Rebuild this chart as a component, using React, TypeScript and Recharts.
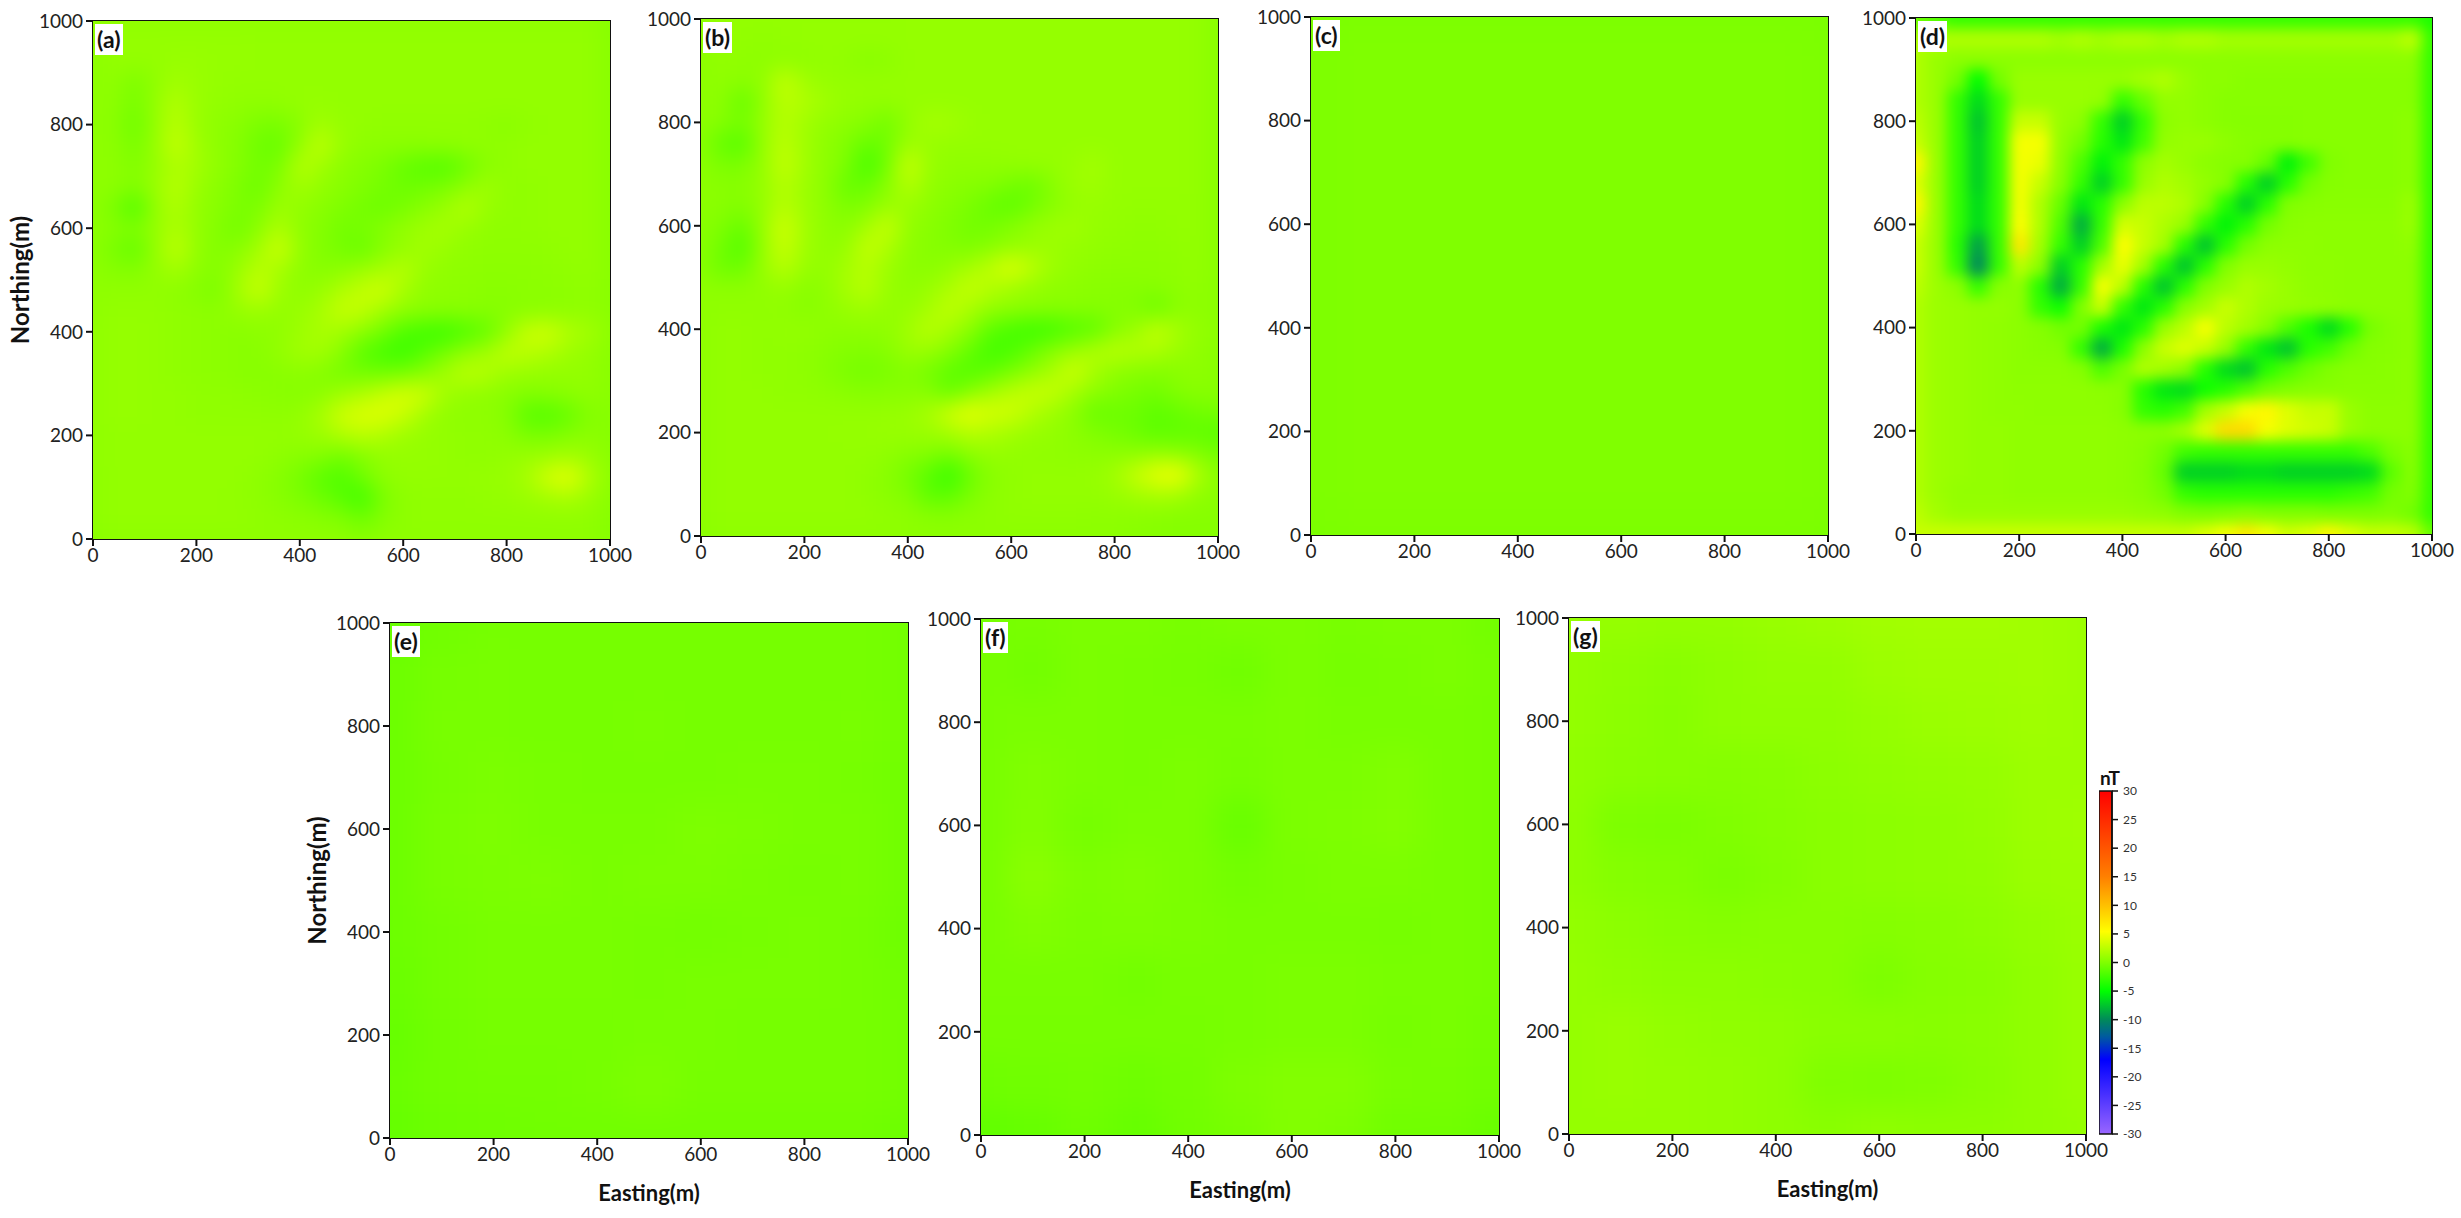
import { Scatter, ScatterChart, XAxis, YAxis, ReferenceArea } from 'recharts';

// anomaly grids in nT, rows run from Northing 1000 (top) down to 0
const panelA = [
  [0.5, 0.7, 0.7, 0.7, 0.7, 0.7, 0.7, 0.7, 0.7, 0.7, 0.7, 0.7, 0.7, 0.7, 0.7, 0.7, 0.7, 0.7, 0.7, 0.7, 0.7, 0.7, 0.7, 0.7, 0.7, 0.3],
  [0.5, 0.9, 0.9, 0.9, 0.9, 0.9, 0.9, 0.9, 0.8, 0.8, 0.8, 0.8, 0.8, 0.8, 0.8, 0.8, 0.8, 0.8, 0.8, 0.8, 0.8, 0.8, 0.8, 0.8, 0.8, 0.4],
  [0.5, 0.8, 0.8, 0.8, 1, 1, 0.9, 0.9, 0.8, 0.8, 0.8, 0.8, 0.8, 0.8, 0.8, 0.8, 0.8, 0.8, 0.8, 0.8, 0.8, 0.8, 0.8, 0.8, 0.8, 0.4],
  [0.5, 0.7, -0.2, 0.7, 1.5, 1, 0.9, 0.8, 0.8, 0.8, 0.8, 0.8, 0.8, 0.8, 0.8, 0.8, 0.8, 0.8, 0.8, 0.8, 0.8, 0.8, 0.8, 0.8, 0.8, 0.4],
  [0.5, 0.6, -0.4, 0.8, 2.2, 1, 0.8, 0.7, 0.6, 0.7, 0.9, 0.9, 0.8, 0.8, 0.8, 0.8, 0.8, 0.8, 0.8, 0.8, 0.8, 0.8, 0.8, 0.8, 0.8, 0.4],
  [0.5, 0.5, -0.8, 0.8, 2.5, 1, 0.6, 0.4, -0.2, -0.3, 0.4, 1.5, 0.9, 0.8, 0.7, 0.7, 0.7, 0.7, 0.7, 0.6, 0.4, 0.7, 0.8, 0.8, 0.8, 0.4],
  [0.5, 0.6, -0.3, 0.9, 3, 1.3, 0.6, 0.2, -0.7, -1, 0.8, 2.8, 1, 0.6, 0.5, 0.5, 0.5, 0.6, 0.7, 0.7, 0.7, 0.8, 0.8, 0.8, 0.8, 0.4],
  [0.5, 0.6, 0, 0.9, 2, 1.5, 0.7, 0.2, -0.5, -0.3, 2.4, 1.4, 0.5, 0.2, -0.2, -1, -1.6, -1.8, -0.8, 0.4, 0.7, 0.8, 0.8, 0.8, 0.8, 0.4],
  [0.5, 0.6, 0.1, 1, 2.5, 1, 0.5, -0.1, -0.8, 0.6, 1.4, 0.8, 0.4, 0, -0.4, -0.8, -0.6, -0.2, 0.6, 1.3, 0.7, 0.7, 0.8, 0.8, 0.8, 0.4],
  [0.5, -0.1, -2.2, 0.9, 2, 0.8, 0.4, -0.2, -0.2, 1.2, 0.8, 0.4, 0, -0.5, -0.8, -0.3, 0.4, 1, 2.2, 1, 0.7, 0.7, 0.8, 0.8, 0.8, 0.4],
  [0.5, 0.3, 0, 0.8, 2, 0.8, 0.2, -0.6, 0.5, 2, 0.6, 0.2, -0.5, -0.3, 0.2, 0.8, 1.3, 1.6, 1, 0.7, 0.6, 0.7, 0.8, 0.8, 0.8, 0.4],
  [0.5, -0.3, -1.2, 0.8, 2.8, 0.8, 0.1, 0.4, 1.4, 3.5, 0.8, 0.1, -0.4, -1, 0.3, 0.8, 1.5, 1, 0.7, 0.6, 0.6, 0.6, 0.7, 0.8, 0.8, 0.4],
  [0.5, 0.3, 0.1, 0.8, 1.5, 0.6, 0.2, 1, 2.5, 1.6, 0.6, 0.3, 0.5, 1.2, 1.6, 2.4, 1, 0.7, 0.6, 0.5, 0.5, 0.5, 0.6, 0.7, 0.8, 0.4],
  [0.6, 0.7, 0.7, 0.7, 0.6, 0.2, -0.2, 1.5, 3.2, 1.2, 0.6, 1, 2, 2.8, 3.5, 1.6, 0.7, 0.6, 0.5, 0.4, 0.4, 0.5, 0.5, 0.6, 0.7, 0.4],
  [0.6, 0.8, 0.8, 0.8, 0.7, 0.6, 0.5, 0.9, 1.2, 0.8, 1, 1.6, 3, 2.8, 1.4, 0.7, 0.5, 0.4, 0.4, 0.3, 0.3, 0.4, 0.5, 0.6, 0.7, 0.4],
  [0.7, 0.9, 0.9, 0.8, 0.7, 0.6, 0.5, 0.4, 0.5, 0.7, 1.2, 1.8, 1.5, 0.5, -0.5, -2, -2.6, -2.8, -2, -1.2, 0.8, 3.2, 3.5, 2, 1.5, 0.5],
  [0.7, 0.9, 0.9, 0.8, 0.7, 0.6, 0.5, 0.4, 0.4, 0.8, 1.4, 1.5, 0.4, -1.5, -2.4, -2.8, -1.6, -0.4, 0.8, 1.5, 2.8, 2.4, 2, 1.2, 0.9, 0.4],
  [0.7, 0.9, 0.9, 0.8, 0.7, 0.6, 0.5, 0.4, 0.3, 0.4, 0.5, 0.2, -0.4, -0.5, -0.6, -0.3, 0.4, 1.5, 2.6, 2.2, 1.2, 1, 0.8, 0.8, 0.8, 0.4],
  [0.7, 0.9, 0.9, 0.8, 0.8, 0.7, 0.7, 0.6, 0.5, 0.4, 0.3, 0.5, 1.3, 2, 3, 3.8, 3.4, 1.4, 0.8, 0.6, 0.4, 0.1, 0.3, 0.5, 0.7, 0.4],
  [0.7, 0.9, 0.9, 0.8, 0.8, 0.7, 0.7, 0.7, 0.7, 0.6, 0.8, 1.6, 3.4, 4, 4, 3.2, 1.5, 0.7, 0.6, 0.6, 0.3, -1.6, -1.8, -1, 0.2, 0.3],
  [0.7, 0.8, 0.8, 0.8, 0.8, 0.8, 0.8, 0.8, 0.8, 0.8, 0.9, 1.2, 2, 2.5, 2, 1.2, 0.9, 0.8, 0.7, 0.7, 0.5, -0.2, -0.2, 0.2, 0.5, 0.3],
  [0.7, 0.8, 0.8, 0.8, 0.8, 0.8, 0.8, 0.8, 0.8, 0.6, 0.4, 0.2, -0.6, 0.2, 0.8, 0.9, 0.9, 0.8, 0.7, 0.7, 0.8, 1, 1.2, 1.5, 1, 0.4],
  [0.6, 0.8, 0.8, 0.8, 0.8, 0.8, 0.8, 0.8, 0.6, 0.3, -0.4, -1.4, -2, -0.6, 0.6, 0.8, 0.8, 0.8, 0.8, 0.9, 1, 1.6, 3.6, 4.5, 2, 0.5],
  [0.6, 0.8, 0.8, 0.8, 0.8, 0.8, 0.8, 0.7, 0.6, 0.3, -0.1, -0.8, -1.6, -2.6, -0.2, 0.6, 0.7, 0.7, 0.7, 0.8, 0.9, 1.1, 1.5, 1.8, 1.1, 0.4],
  [0.6, 0.8, 0.8, 0.8, 0.8, 0.8, 0.8, 0.8, 0.7, 0.6, 0.5, 0.3, 0.1, -0.8, 0.2, 0.6, 0.7, 0.7, 0.7, 0.7, 0.7, 0.7, 0.7, 0.7, 0.7, 0.3],
  [0.4, 0.6, 0.6, 0.6, 0.6, 0.6, 0.6, 0.6, 0.6, 0.6, 0.6, 0.6, 0.6, 0.4, 0.6, 0.6, 0.6, 0.6, 0.6, 0.6, 0.6, 0.6, 0.6, 0.6, 0.6, 0.2],
];

const panelB = [
  [0.5, 0.8, 0.8, 0.8, 0.8, 0.8, 0.8, 0.8, 0.8, 0.8, 0.9, 0.9, 0.9, 0.9, 0.9, 0.9, 0.9, 0.9, 0.9, 0.9, 0.9, 0.9, 0.9, 0.9, 0.8, 0.4],
  [0.5, 0.8, 0.8, 0.7, 0.8, 0.9, 0.9, 0.9, 0.9, 0.9, 0.9, 0.9, 0.9, 0.9, 0.9, 0.9, 0.9, 0.9, 0.9, 0.9, 0.9, 0.9, 0.9, 0.9, 0.8, 0.4],
  [0.5, 0.8, 0.6, 0.6, 0.6, 0.6, 0.8, 0.7, 0.3, 0.5, 0.9, 0.9, 0.9, 0.9, 0.9, 0.9, 0.9, 0.9, 0.9, 0.9, 0.9, 0.9, 0.9, 0.9, 0.8, 0.4],
  [0.5, 0.7, 0.5, 0.7, 3, 1.4, 0.9, 0.9, 0.9, 0.9, 0.9, 0.9, 0.9, 0.9, 0.9, 0.9, 0.9, 0.9, 0.9, 0.9, 0.9, 0.9, 0.9, 0.9, 0.8, 0.4],
  [0.5, 0.6, -1.2, 0.8, 2.5, 2, 1.4, 0.9, 0.8, 0.8, 0.9, 0.9, 0.9, 0.9, 0.9, 0.9, 0.9, 0.9, 0.9, 0.9, 0.9, 0.9, 0.9, 0.9, 0.8, 0.4],
  [0.5, 0.3, -0.4, 0.9, 2.4, 1.4, 0.8, 0.6, 0.3, -0.6, 0.8, 1.6, 1.5, 1, 0.9, 0.9, 0.9, 0.9, 0.9, 0.9, 0.9, 0.9, 0.9, 0.9, 0.8, 0.4],
  [0.4, -1.2, -1.8, 1, 2.6, 1.3, 0.6, 0.1, -1, -0.6, 1.2, 1, 0.9, 0.9, 0.9, 0.9, 0.9, 0.9, 0.9, 0.9, 0.9, 0.9, 0.9, 0.9, 0.8, 0.4],
  [0.5, -0.2, -0.2, 0.9, 3, 1.4, 0.6, 0, -2.5, -0.6, 3.3, 1, 0.7, 0.7, 0.7, 0.8, 0.9, 0.9, 1, 1.5, 0.9, 0.9, 0.9, 0.9, 0.8, 0.4],
  [0.5, 0.4, 0.3, 0.9, 2.4, 1.2, 0.6, -1, -1, 0.3, 2.4, 0.8, 0.5, 0.3, 0.2, -0.4, -0.8, 0.4, 1.2, 1.3, 0.9, 0.9, 0.9, 0.9, 0.8, 0.4],
  [0.5, 0.4, 0.1, 0.9, 2.4, 1.2, 0.6, -0.2, 0, 1, 1.2, 0.6, 0.2, -0.2, -1, -1.5, -0.6, 0.3, 0.9, 1, 0.9, 0.8, 0.8, 0.8, 0.8, 0.4],
  [0.4, 0, -1, 1, 3.5, 1.4, 0.7, 0.4, 1.4, 3.2, 0.8, 0.4, 0, -0.5, -0.5, 0.2, 0.8, 1.2, 1.4, 0.9, 0.8, 0.7, 0.7, 0.8, 0.8, 0.4],
  [0.4, -0.6, -2, 1, 3.2, 1.3, 0.7, 0.8, 3, 2, 0.6, 0.3, 0.1, -0.2, 0.3, 0.7, 1, 1.2, 0.9, 0.8, 0.7, 0.6, 0.6, 0.7, 0.8, 0.4],
  [0.4, -0.8, -0.8, 1, 2.5, 1, 0.8, 1.5, 2.4, 1.2, 0.5, 0.4, 0.8, 1.6, 2.6, 4.2, 2.6, 1.2, 0.8, 0.6, 0.5, 0.5, 0.5, 0.6, 0.8, 0.4],
  [0.6, 0.6, 0.6, 0.7, 1, 0.4, 0.6, 1.6, 2.5, 1, 0.6, 1, 1.8, 3, 2.2, 1.4, 0.9, 0.6, 0.5, 0.4, 0.3, 0.3, 0.4, 0.6, 0.7, 0.4],
  [0.6, 0.7, 0.7, 0.7, 0.7, 0.3, 0.6, 1, 1.3, 0.8, 0.9, 1.5, 2.8, 1.8, 0.9, 0.7, 0.5, 0.4, 0.4, 0.3, 0.2, 0.1, -1, 0.4, 0.6, 0.4],
  [0.6, 0.8, 0.8, 0.7, 0.8, 0.8, 0.6, 0.5, 0.6, 0.7, 1.3, 2.5, 1.6, 0.6, -1.4, -2.2, -2.8, -2.6, -1.8, -1.5, 0.2, 1, 3, 1.6, 0.8, 0.5],
  [0.6, 0.8, 0.8, 0.7, 0.7, 0.6, 0.4, 0.2, 0.1, 0.3, 1.2, 1.2, 0.3, -1, -2.5, -2.2, -1, 0.3, 1, 2, 2.5, 2.2, 2, 1.2, 0.7, 0.4],
  [0.6, 0.8, 0.8, 0.7, 0.7, 0.6, 0.3, -0.2, -0.5, -0.2, 0.2, -0.4, -1.3, -1.8, -1.4, -0.4, 0.6, 1.6, 3.5, 1.6, 0.7, 0.4, 0.2, 0.4, 0.6, 0.3],
  [0.6, 0.8, 0.8, 0.8, 0.7, 0.7, 0.6, 0.4, 0.2, 0.3, 0.3, 0.2, -1.3, 0.2, 1.4, 2.4, 3, 3, 1.6, 0.7, 0.1, -0.3, -0.6, 0.2, 0.4, 0.3],
  [0.6, 0.8, 0.8, 0.8, 0.8, 0.8, 0.8, 0.8, 0.8, 0.9, 1, 1.6, 3.4, 4.5, 3.6, 3.5, 2.2, 1.2, 0.6, -1, -0.8, -0.8, -1.4, -1, -0.6, -0.4],
  [0.6, 0.8, 0.8, 0.8, 0.8, 0.8, 0.8, 0.9, 0.9, 1, 1, 1.2, 1.6, 2.4, 2, 1.4, 1, 0.8, 0.5, 0.1, -0.4, -0.8, -1.5, -1.2, -1.3, -1.5],
  [0.6, 0.8, 0.8, 0.8, 0.8, 0.8, 0.8, 0.8, 0.8, 0.7, 0.4, 0.2, -0.3, 0.6, 0.9, 0.8, 0.7, 0.7, 0.6, 0.5, 0.5, 0.5, 0.8, 0.5, 0.1, -0.5],
  [0.6, 0.8, 0.8, 0.8, 0.8, 0.8, 0.8, 0.8, 0.7, 0.4, -0.4, -1.5, -3, -0.8, 0.4, 0.7, 0.8, 0.8, 0.8, 0.9, 1.4, 3, 4.5, 5.2, 2, 0.4],
  [0.6, 0.8, 0.8, 0.8, 0.8, 0.8, 0.8, 0.8, 0.7, 0.4, 0.1, -1.5, -1.5, -0.2, 0.5, 0.7, 0.8, 0.8, 0.8, 0.8, 1, 1.4, 1.8, 1.6, 0.7, 0.4],
  [0.6, 0.8, 0.8, 0.8, 0.8, 0.8, 0.8, 0.8, 0.8, 0.7, 0.6, 0.4, 0.3, 0.5, 0.6, 0.7, 0.7, 0.7, 0.7, 0.6, 0.6, 0.5, 0.4, 0.3, 0.3, 0.3],
  [0.4, 0.6, 0.6, 0.6, 0.6, 0.6, 0.6, 0.6, 0.6, 0.6, 0.5, 0.5, 0.5, 0.5, 0.5, 0.5, 0.5, 0.5, 0.5, 0.5, 0.5, 0.4, 0.3, 0.2, 0.2, 0.2],
];

const panelC = [
  [-0.2, -0.1, -0.1, -0.1, -0.1, -0.1, -0.1, -0.1, -0.1, -0.1, -0.2],
  [-0.1, 0, 0, 0, 0, 0, 0, 0, 0, 0, -0.1],
  [-0.1, 0, 0, 0, 0, 0, 0, 0, 0, 0, -0.1],
  [-0.1, 0, 0, 0, 0, 0, 0, 0, 0, 0, -0.1],
  [-0.1, 0, 0, 0, 0, 0, 0, 0, 0, 0, -0.1],
  [-0.1, 0, 0, 0, 0, 0, 0, 0, 0, 0, -0.1],
  [-0.1, 0, 0, 0, 0, 0, 0, 0, 0, 0, -0.1],
  [-0.1, 0, 0, 0, 0, 0, 0, 0, 0, 0, -0.1],
  [-0.1, 0, 0, 0, 0, 0, 0, 0, 0, 0, -0.1],
  [-0.1, 0, 0, 0, 0, 0, 0, 0, 0, 0, -0.1],
  [-0.2, -0.1, -0.1, -0.1, -0.1, -0.1, -0.1, -0.1, -0.1, -0.1, -0.2],
];

const panelD = [
  [-1, -2, -3, -3, -3, -3, -3, -3, -3, -3, -3, -3, -3, -3, -3, -3, -3, -3, -3, -3, -3, -3, -3, -3, -3, -4],
  [2, 2, 2, 2, 2, 2, 2, 1.5, 2, 1.5, 2, 2, 1.5, 2, 2, 1.5, 1.5, 1.5, 1.5, 1.5, 1.5, 1.5, 1.5, 1.5, 2.5, -3],
  [2, 1, 0.5, 0.5, 0.5, 0.5, 0.5, 0.5, 0.5, 0.5, 0.5, 0.5, 0.5, 0.5, 0.5, 0.5, 0.5, 0.5, 0.5, 0.5, 0.5, 0.5, 0.5, 0.5, 0.5, -3],
  [2, 1, -0.5, -5, -0.5, 1, 1, 1, 1, 1, 1, 1.5, 2, 1, 0.5, 0.5, 0.3, 0.3, 0.3, 0.3, 0.3, 0.3, 0.3, 0.3, 0.3, -3],
  [2, 1, -3, -6.5, -3, 1, 1, 1, 1, 0.8, -3, -1, 0.8, 0.8, 0.5, 0.3, 0.3, 0.3, 0.3, 0.3, 0.3, 0.3, 0.3, 0.3, 0.3, -3],
  [2.5, 1, -3, -7.5, -3, 3, 3, 1, 0.5, -3, -7, -3, 0.5, 0.8, 0.5, 0.3, 0.2, 0.2, 0.2, 0.3, 0.3, 0.3, 0.3, 0.3, 0.5, -3],
  [3, 1, -3, -7, -3, 5, 5, 0.8, -0.5, -3.5, -6, -2.5, 0.8, 1, 1, 0.6, 0.3, 0.2, 0.2, 0.3, 0.3, 0.3, 0.3, 0.3, 0.5, -3],
  [6, 1, -3, -7, -3, 5, 4.5, 0.6, -2, -5.5, -3, 0.5, 1.5, 1, 0.5, 0.3, 0.2, -1, -5.5, -2.5, 0, 0.3, 0.3, 0.3, 0.5, -3],
  [4, 1, -3, -7, -3, 5, 3, 0.3, -3, -7, -3, 1, 2, 1.5, 0.8, 0.2, -3.5, -7, -3.5, -0.5, 0.2, 0.3, 0.3, 0.3, 0.5, -3],
  [6, 1, -3, -6.5, -3, 5, 2, -1, -6, -3.5, 0.5, 2.5, 2.5, 2, 0.3, -3.5, -7, -3.5, 0, 0.3, 0.4, 0.4, 0.4, 0.4, 1, -3],
  [4, 1, -3, -6.5, -3, 5.5, 2, -2, -8.5, -3, 3.5, 3, 2, 1, -3, -5.5, -3.5, -0.5, 0.4, 0.5, 0.5, 0.5, 0.5, 0.5, 1, -3],
  [3, 1, -3.5, -9, -3, 7, 1.5, -3, -7, -2, 5.5, 3, 1.5, -3.5, -7.5, -3.5, -0.5, 0.5, 0.6, 0.6, 0.5, 0.5, 0.5, 0.5, 0.7, -3],
  [3, 1, -3, -10, -3, 2.5, 0.5, -7, -3.5, 1.5, 4.5, 1.5, -3.5, -7.5, -3.5, 0, 1, 1, 0.8, 0.6, 0.6, 0.5, 0.5, 0.5, 0.5, -3],
  [2.5, 1.2, 0.5, -3, 0.3, 0.6, -3.5, -8.5, -3, 5, 2.5, -3.5, -7.5, -3.5, 0, 1, 2, 1.5, 1, 0.7, 0.6, 0.5, 0.5, 0.5, 0.5, -3],
  [2, 1.2, 1, 0.8, 0.8, 0.5, -3, -4.5, 0, 3, -3, -6, -3.5, 0.3, 1.5, 3, 2, 1.2, 1, 0.8, 0.7, 0.5, 0.5, 0.5, 0.5, -3],
  [2, 1.2, 1, 0.8, 0.7, 0.5, 0.2, -0.5, -0.5, -4, -6, -3.5, 1, 2.5, 5, 2.5, 1.5, 0.3, -2, -4, -6.5, -3.5, -0.3, 0.3, 0.5, -3],
  [2, 1.2, 1, 0.8, 0.7, 0.5, 0.3, 0.2, -3, -8.5, -4, 0.5, 3, 4, 3, 1, -3, -6, -7.5, -3.5, -2.5, -0.7, 0.2, 0.3, 0.5, -3],
  [2, 1.2, 1, 0.8, 0.7, 0.5, 0.5, 0.5, 0.2, -2, -0.3, 2, 1.5, 0.5, -3.5, -6.5, -7.5, -3.5, -2, -0.8, 0, 0.3, 0.3, 0.4, 0.5, -3],
  [2, 1.2, 1, 0.8, 0.7, 0.6, 0.6, 0.6, 0.6, 0.5, 0.3, -3.5, -6, -6.5, -4.5, -3.5, -2, -0.5, 0, 0.3, 0.3, 0.4, 0.4, 0.4, 0.5, -3],
  [2, 1.2, 1, 0.8, 0.7, 0.7, 0.6, 0.6, 0.6, 0.6, 0.3, -3, -3.5, -2.5, 1.5, 3, 5, 6, 4, 3, 3, 1, 0.5, 0.5, 0.5, -3],
  [2, 1.2, 1, 0.8, 0.8, 0.7, 0.7, 0.7, 0.7, 0.7, 0.6, 0.5, 0.5, 1.5, 4, 8, 8, 5, 4, 3.5, 3, 1, 0.5, 0.5, 0.5, -3],
  [2, 1.2, 1, 0.8, 0.8, 0.7, 0.7, 0.7, 0.7, 0.7, 0.6, 0.3, -0.5, -2.5, -3, -3, -3, -3, -3, -3, -3, -3, -2, -0.3, 0.3, -3],
  [2, 1.2, 1, 0.8, 0.8, 0.7, 0.7, 0.7, 0.7, 0.7, 0.6, 0.2, -1, -7, -7, -7, -6.5, -6.5, -7, -7, -7, -7, -6.5, -1.5, 0.2, -3],
  [2, 1.2, 0.8, 0.8, 0.8, 0.7, 0.7, 0.7, 0.7, 0.7, 0.6, 0.3, -0.5, -3, -3.5, -3.5, -3.5, -3.5, -3.5, -3.5, -3.5, -3, -2.5, -0.5, 0, -3],
  [2.5, 1.5, 1, 1, 1, 1, 1, 1, 1, 1, 1, 0.8, 0.6, 0, -0.2, 0, 0.3, 0, 0, 0, -0.2, -0.2, -0.2, 0, -0.5, -3],
  [3, 3, 3, 3, 3, 3, 3, 3, 3, 3, 3, 3, 3, 3, 4, 5, 7, 5, 3.5, 4, 6, 4, 3, 3, 2.5, -1],
];

const panelE = [
  [-0.9, -0.6, -0.4, -0.4, -0.4, -0.4, -0.4, -0.4, -0.4, -0.4, -0.5],
  [-0.8, -0.4, -0.3, -0.4, -0.4, -0.4, -0.4, -0.4, -0.4, -0.4, -0.5],
  [-0.8, -0.3, -0.3, -0.4, -0.4, -0.3, -0.4, -0.4, -0.4, -0.3, -0.5],
  [-0.8, -0.4, -0.2, -0.3, -0.4, -0.4, -0.4, -0.3, -0.3, -0.4, -0.6],
  [-0.8, -0.3, -0.1, -0.3, -0.3, -0.3, -0.1, -0.2, -0.3, -0.3, -0.6],
  [-0.8, -0.3, -0.2, -0.1, -0.3, -0.2, -0.2, -0.3, -0.4, -0.3, -0.6],
  [-0.8, -0.5, -0.3, -0.3, -0.3, -0.4, -0.5, -0.4, -0.3, -0.4, -0.7],
  [-0.9, -0.5, -0.3, -0.3, -0.3, -0.4, -0.3, -0.3, -0.3, -0.4, -0.6],
  [-1, -0.6, -0.4, -0.4, -0.4, -0.3, -0.3, -0.4, -0.4, -0.4, -0.5],
  [-0.9, -0.6, -0.5, -0.5, -0.4, -0.1, -0.4, -0.4, -0.4, -0.4, -0.5],
  [-1.1, -0.8, -0.7, -0.6, -0.6, -0.6, -0.6, -0.6, -0.6, -0.6, -0.8],
];

const panelF = [
  [-0.4, -0.3, -0.2, -0.2, -0.3, -0.2, -0.2, -0.3, -0.2, -0.2, -0.5],
  [-0.3, -0.5, -0.2, -0.3, -0.4, -0.6, -0.2, -0.4, -0.3, -0.2, -0.4],
  [-0.3, -0.2, -0.2, -0.3, -0.3, -0.3, -0.2, -0.3, -0.3, -0.3, -0.4],
  [-0.3, 0, -0.2, -0.3, -0.2, -0.4, -0.2, -0.2, 0, -0.3, -0.4],
  [-0.3, 0.1, -0.4, -0.2, -0.2, -0.9, -0.2, -0.1, 0.1, -0.3, -0.4],
  [-0.3, 0.4, -0.1, 0, -0.2, -0.5, -0.3, -0.2, -0.2, -0.3, -0.4],
  [-0.3, 0, -0.2, -0.1, -0.2, -0.3, -0.3, -0.3, -0.4, -0.3, -0.4],
  [-0.3, -0.3, -0.3, -0.5, -0.3, -0.3, -0.2, -0.2, -0.3, -0.3, -0.4],
  [-0.4, -0.4, -0.4, -0.4, -0.4, -0.3, -0.2, -0.2, -0.4, -0.3, -0.5],
  [-0.7, -0.6, -0.5, -0.7, -0.5, -0.1, 0.1, 0.1, -0.3, -0.4, -0.6],
  [-1.2, -1, -0.7, -1, -0.6, -0.3, 0.1, -0.1, -0.6, -0.6, -0.9],
];

const panelG = [
  [0.9, 0.9, 0.8, 0.8, 1, 1.2, 1.4, 1.5, 1.5, 1.4, 1.2],
  [0.8, 0.6, 0.4, 0.6, 0.8, 0.8, 1.2, 1.3, 1.3, 1.4, 1.2],
  [0.8, 0.5, 0.3, 0.6, 0.7, 0.7, 0.9, 1.1, 1.2, 1.3, 1.2],
  [0.7, 0.4, 0.3, 0.2, 0.3, 0.5, 0.7, 0.8, 0.9, 1.2, 1.2],
  [0.6, -0.1, -0.2, 0, 0.2, 0.4, 0.5, 0.6, 0.8, 1.2, 1.3],
  [0.6, 0.2, 0.1, -0.2, 0.1, 0.4, 0.5, 0.6, 0.7, 1.1, 1.2],
  [0.8, 0.5, 0.3, 0.2, 0.3, 0.3, 0.2, 0.3, 0.5, 0.8, 1.1],
  [0.9, 0.7, 0.5, 0.5, 0.4, 0.3, -0.1, 0.2, 0.3, 0.7, 1],
  [0.9, 1, 0.8, 0.7, 0.6, 0.4, 0.4, 0.3, 0.4, 0.7, 1],
  [0.9, 1, 0.9, 0.8, 0.6, 0, -0.1, 0, 0.3, 0.7, 1],
  [0.9, 0.9, 0.9, 0.8, 0.6, 0.4, 0.6, 0.5, 0.5, 0.7, 0.9],
];

const axisTicks = [0, 200, 400, 600, 800, 1000];
const colorbarTicks = [30, 25, 20, 15, 10, 5, 0, -5, -10, -15, -20, -25, -30];
const colorStopValues = [-30, -17, -13, -10, -5, 0, 5.4, 10, 15, 30];
const colorStopColors = ['#9966ff', '#0000ff', '#005aa0', '#008a5a', '#00ff00', '#80ff00', '#ffff00', '#ffc000', '#ff8000', '#ff0000'];

const hex = (c: string) => [1, 3, 5].map(i => parseInt(c.slice(i, i + 2), 16));

function colorOf(v: number) {
  let i = 0;
  while (i < colorStopValues.length - 2 && v > colorStopValues[i + 1]) i++;
  const t = Math.min(1, Math.max(0, (v - colorStopValues[i]) / (colorStopValues[i + 1] - colorStopValues[i])));
  const a = hex(colorStopColors[i]);
  const b = hex(colorStopColors[i + 1]);
  return `rgb(${a.map((x, k) => Math.round(x + (b[k] - x) * t)).join(',')})`;
}

const LABEL_FONT = 'Lato, "Open Sans", sans-serif';
const tickStyle = { fontFamily: LABEL_FONT, fontSize: 19, fill: '#222' };
const boldLabel = { fontFamily: LABEL_FONT, fontWeight: 700, fill: '#111' };

interface PanelProps {
  name: string;
  grid: number[][];
  blur: number;
  left: number;
  right: number;
  top: number;
  bottom: number;
  northing?: boolean;
  easting?: boolean;
}

const AXIS_W = 90;
const MARGIN = 40;
const AXIS_H = 80;

function Panel({ name, grid, blur, left, right, top, bottom, northing, easting }: PanelProps) {
  const w = right - left;
  const h = bottom - top;
  const step = 1000 / (grid[0].length - 1);
  const cell = (w * step) / 1000;
  const points = grid.flatMap((row, r) =>
    row.map((v, c) => ({ x: c * step, y: 1000 - r * step, v })),
  );
  const id = `heat-${name}`;

  return (
    <div style={{ position: 'absolute', left: left - AXIS_W, top: top - MARGIN }}>
      <style>{`.${id}{filter:blur(${blur}px)}`}</style>
      <ScatterChart
        width={AXIS_W + w + MARGIN}
        height={MARGIN + h + AXIS_H}
        margin={{ left: 0, right: MARGIN, top: MARGIN, bottom: 0 }}
      >
        <XAxis
          type="number"
          dataKey="x"
          domain={[0, 1000]}
          ticks={axisTicks}
          interval={0}
          allowDataOverflow
          height={AXIS_H}
          tick={tickStyle}
          tickSize={7}
          tickMargin={3}
          axisLine={{ stroke: '#111', strokeWidth: 2 }}
          tickLine={{ stroke: '#111', strokeWidth: 2 }}
          label={easting ? { value: 'Easting(m)', position: 'insideBottom', offset: 17, style: { ...boldLabel, fontSize: 22 } } : undefined}
        />
        <YAxis
          type="number"
          dataKey="y"
          domain={[0, 1000]}
          ticks={axisTicks}
          interval={0}
          allowDataOverflow
          width={AXIS_W}
          tick={tickStyle}
          tickSize={7}
          tickMargin={3}
          axisLine={{ stroke: '#111', strokeWidth: 2 }}
          tickLine={{ stroke: '#111', strokeWidth: 2 }}
          label={northing ? { value: 'Northing(m)', angle: -90, position: 'insideLeft', offset: 17, style: { ...boldLabel, fontSize: 24, textAnchor: 'middle' } } : undefined}
        />
        <Scatter
          data={points}
          className={id}
          isAnimationActive={false}
          shape={(p: any) => {
            const { x, y, v } = p.payload;
            // outer cells run past the frame so the blur does not fade at the edge
            const l = p.cx - cell / 2 - (x === 0 ? 40 : 0);
            const r = p.cx + cell / 2 + (x === 1000 ? 40 : 0);
            const t = p.cy - cell / 2 - (y === 1000 ? 40 : 0);
            const b = p.cy + cell / 2 + (y === 0 ? 40 : 0);
            return <rect x={l} y={t} width={r - l + 1} height={b - t + 1} fill={colorOf(v)} />;
          }}
        />
        <ReferenceArea
          x1={0}
          x2={1000}
          y1={0}
          y2={1000}
          fill="none"
          stroke="#111"
          strokeWidth={2}
          isFront
        />
      </ScatterChart>
      <div
        style={{
          position: 'absolute',
          left: AXIS_W + 2,
          top: MARGIN + 3,
          background: '#fff',
          padding: '0 2px',
          fontFamily: LABEL_FONT,
          fontWeight: 700,
          fontSize: 23,
          lineHeight: '31px',
          color: '#111',
        }}
      >
        ({name})
      </div>
    </div>
  );
}

const colorbarEnds = [{ x: 0, y: -30 }, { x: 1, y: 30 }];

function Colorbar() {
  return (
    <div style={{ position: 'absolute', left: 2099, top: 771 }}>
      <ScatterChart width={70} height={378} margin={{ left: 0, right: 0, top: 20, bottom: 15 }}>
        <defs>
          <linearGradient id="nt-scale" x1="0" y1="1" x2="0" y2="0">
            {colorStopValues.map((v, i) => (
              <stop key={v} offset={(v + 30) / 60} stopColor={colorStopColors[i]} />
            ))}
          </linearGradient>
        </defs>
        <XAxis type="number" dataKey="x" domain={[0, 1]} hide />
        <YAxis
          type="number"
          dataKey="y"
          orientation="right"
          domain={[-30, 30]}
          ticks={colorbarTicks}
          interval={0}
          width={57}
          tick={{ fontFamily: LABEL_FONT, fontSize: 12, fill: '#333' }}
          tickSize={6}
          tickMargin={5}
          axisLine={{ stroke: '#111', strokeWidth: 1.5 }}
          tickLine={{ stroke: '#111', strokeWidth: 1.5 }}
        />
        <Scatter data={colorbarEnds} isAnimationActive={false} shape={() => <g />} />
        <ReferenceArea x1={0} x2={1} y1={-30} y2={30} fill="url(#nt-scale)" fillOpacity={1} stroke="#111" strokeWidth={1.5} isFront />
      </ScatterChart>
      <div style={{ position: 'absolute', left: 1, top: -3, fontFamily: LABEL_FONT, fontWeight: 700, fontSize: 19, lineHeight: '20px', color: '#111' }}>
        nT
      </div>
    </div>
  );
}

export default function App() {
  return (
    <div style={{ position: 'absolute', left: 0, top: 0, width: 2461, height: 1218, background: '#fff', overflow: 'hidden' }}>
      <Panel name="a" grid={panelA} blur={11} left={93} right={610} top={21} bottom={539} northing />
      <Panel name="b" grid={panelB} blur={11} left={701} right={1218} top={19} bottom={536} />
      <Panel name="c" grid={panelC} blur={18} left={1311} right={1828} top={17} bottom={535} />
      <Panel name="d" grid={panelD} blur={7} left={1916} right={2432} top={18} bottom={534} />
      <Panel name="e" grid={panelE} blur={16} left={390} right={908} top={623} bottom={1138} northing easting />
      <Panel name="f" grid={panelF} blur={14} left={981} right={1499} top={619} bottom={1135} easting />
      <Panel name="g" grid={panelG} blur={14} left={1569} right={2086} top={618} bottom={1134} easting />
      <Colorbar />
    </div>
  );
}
